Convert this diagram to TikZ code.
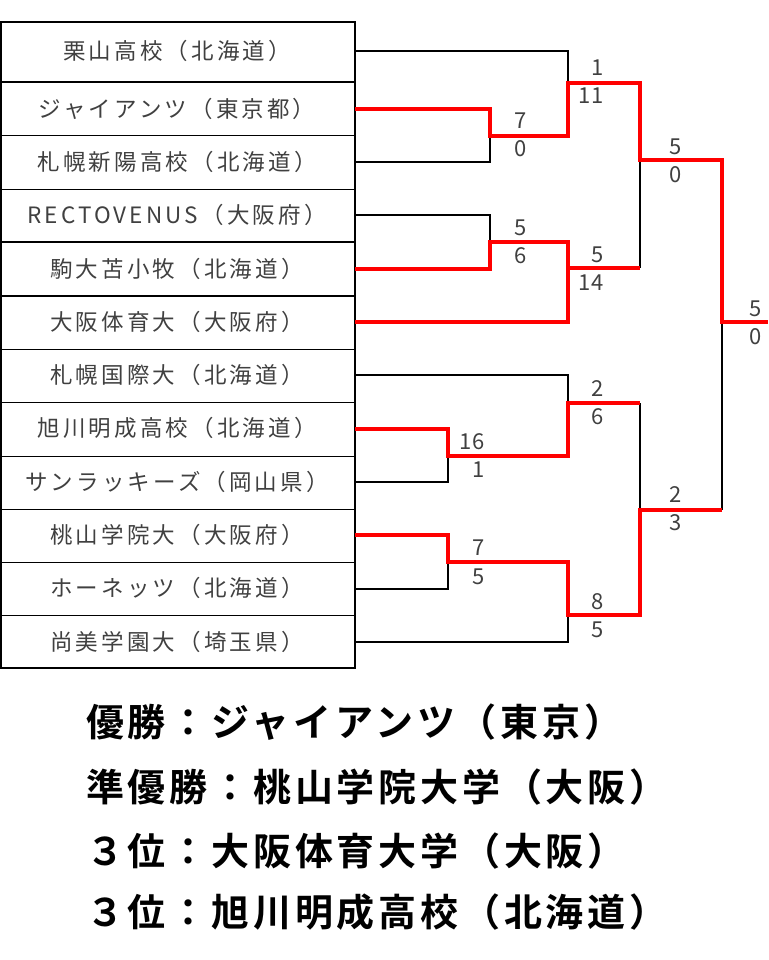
\documentclass[tikz,border=0pt]{standalone}
\usepackage{fontspec}
\setmainfont{Noto Sans CJK JP}
\newfontfamily\spaced[LetterSpace=14]{Noto Sans CJK JP}
\newfontfamily\spacedb[LetterSpace=10,BoldFont={Noto Sans CJK JP Bold}]{Noto Sans CJK JP}
\definecolor{tx}{HTML}{404040}
\definecolor{rd}{HTML}{FF0000}
\tikzset{
 bl/.style={draw=black,line width=1.2pt},
 win/.style={draw=rd,line width=3.5pt},
 sc/.style={text=tx,font=\fontsize{22}{22}\selectfont,inner sep=0pt},
 nm/.style={text=tx,font=\spaced\fontsize{22.5}{22.5}\selectfont,inner sep=0pt},
 res/.style={anchor=west,font=\spacedb\fontsize{38}{38}\selectfont\bfseries,inner sep=0pt}
}
\begin{document}
\begin{tikzpicture}[x=1pt,y=-1pt]
\useasboundingbox (0,0) rectangle (768,960);
% table
\draw[line width=1.2pt] (1,22) rectangle (355,668);
\foreach \y in {82,136,189,242,296,349,402,456,509,562,615}
  \draw[line width=1pt] (1,\y) -- (355,\y);
\foreach \y in {82,242,296}
  \draw[line width=2pt] (1,\y) -- (355,\y);
\foreach \t [count=\i] in {栗山高校（北海道）,ジャイアンツ（東京都）,札幌新陽高校（北海道）,RECTOVENUS（大阪府）,駒大苫小牧（北海道）,大阪体育大（大阪府）,札幌国際大（北海道）,旭川明成高校（北海道）,サンラッキーズ（岡山県）,桃山学院大（大阪府）,ホーネッツ（北海道）,尚美学園大（埼玉県）}
  \node[nm] (t\i) at (177,{\i==1 ? 51 : 82+(\i-2)*53.3+26.6}) {\t};
\foreach \i/\y in {1/51,2/109,3/162,4/215,5/269,6/322,7/375,8/429,9/482,10/535,11/589,12/642}
  \coordinate (r\i) at (355,\y);
% black losers
\draw[bl] (r1) -- (568,51) -- (568,83);
\draw[bl] (r3) -- (490,162) -- (490,136);
\draw[bl] (r4) -- (490,215) -- (490,242);
\draw[bl] (r7) -- (568,375) -- (568,402);
\draw[bl] (r9) -- (448,482) -- (448,456);
\draw[bl] (r11) -- (448,589) -- (448,562);
\draw[bl] (r12) -- (568,642) -- (568,615);
\draw[bl] (640,160) -- (640,268);
\draw[bl] (640,403) -- (640,510);
\draw[bl] (722,510) -- (722,322);
% red winners
\draw[win] (r2) -- (490,109) -- (490,136) -- (568,136) -- (568,83) -- (640,83) -- (640,160) -- (722,160) -- (722,322) -- (768,322);
\draw[win] (r5) -- (490,269) -- (490,242) -- (568,242) -- (568,268) -- (640,268);
\draw[win] (r6) -- (568,322) -- (568,268);
\draw[win] (r8) -- (448,429) -- (448,456) -- (568,456) -- (568,403) -- (640,403);
\draw[win] (r10) -- (448,535) -- (448,562) -- (568,562) -- (568,615) -- (640,615) -- (640,510) -- (722,510);
% scores
\node[sc] (s1) at (598,68) {1}; \node[sc] (s2) at (591,96) {11};
\node[sc] (s3) at (521,121) {7}; \node[sc] (s4) at (521,149) {0};
\node[sc] (s5) at (521,228) {5}; \node[sc] (s6) at (521,256) {6};
\node[sc] (s7) at (598,255) {5}; \node[sc] (s8) at (591,283) {14};
\node[sc] (s9) at (676,147) {5}; \node[sc] (s10) at (676,175) {0};
\node[sc] (s11) at (472,442) {16}; \node[sc] (s12) at (479,470) {1};
\node[sc] (s13) at (598,389) {2}; \node[sc] (s14) at (598,417) {6};
\node[sc] (s15) at (479,548) {7}; \node[sc] (s16) at (479,577) {5};
\node[sc] (s17) at (598,602) {8}; \node[sc] (s18) at (598,630) {5};
\node[sc] (s19) at (676,495) {2}; \node[sc] (s20) at (676,523) {3};
\node[sc] (s21) at (756,309) {5}; \node[sc] (s22) at (756,337) {0};
% results
\node[res] (w1) at (86,722) {優勝：ジャイアンツ（東京）};
\node[res] (w2) at (86,787) {準優勝：桃山学院大学（大阪）};
\node[res] (w3) at (86,851) {３位：大阪体育大学（大阪）};
\node[res] (w4) at (86,912) {３位：旭川明成高校（北海道）};
\end{tikzpicture}
\end{document}
